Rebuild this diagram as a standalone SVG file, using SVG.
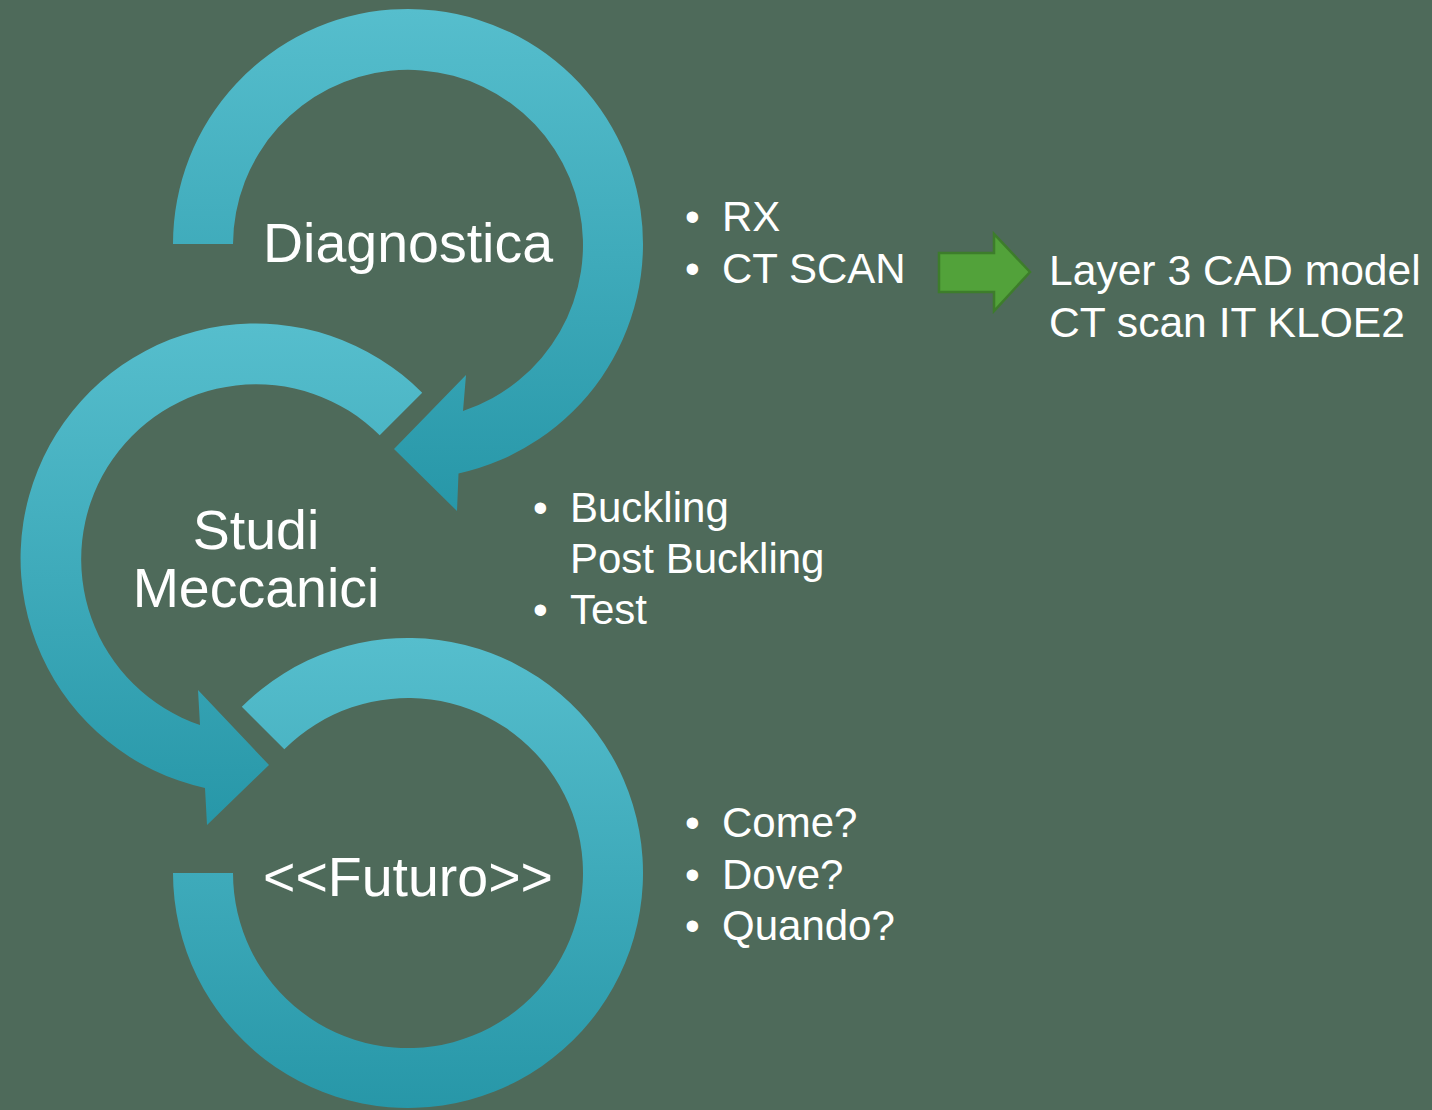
<svg xmlns="http://www.w3.org/2000/svg" width="1432" height="1110" viewBox="0 0 1432 1110">
  <defs>
    <linearGradient id="teal" x1="0" y1="0" x2="0" y2="1">
      <stop offset="0" stop-color="#56BECD"/>
      <stop offset="1" stop-color="#2797A8"/>
    </linearGradient>
    <style>
      .band { fill: url(#teal); }
      .label { font-family: "Liberation Sans", Arial, sans-serif; fill: #FFFFFF; font-size: 55.5px; text-anchor: middle; }
      .txt { font-family: "Liberation Sans", Arial, sans-serif; fill: #FFFFFF; font-size: 42px; }
      .res { font-size: 42.6px; }
      .green { fill: #52A23A; stroke: #3D7D2B; stroke-width: 2.5; stroke-linejoin: miter; }
    </style>
  </defs>
  <rect x="0" y="0" width="1432" height="1110" fill="#4E6A5A"/>

  <g id="node-diagnostica">
    <path class="band" d="M173,244 A235,235 0 1 1 458.5,473.5 L457,511 L394,449 L466,375 L463,411 A175,175 0 1 0 233,244 Z"/>
    <text class="label" x="408" y="262">Diagnostica</text>
  </g>

  <g id="node-studi">
    <path class="band" d="M422.2,392.8 A235,235 0 1 0 205,788 L207,825 L269,765 L198,690 L200,725 A175,175 0 1 1 379.7,435.3 Z"/>
    <text class="label" x="256" y="549">Studi</text>
    <text class="label" x="256" y="607">Meccanici</text>
  </g>

  <g id="node-futuro">
    <path class="band" d="M241.8,706.8 A235,235 0 1 1 173,873 L233,873 A175,175 0 1 0 284.3,749.3 Z"/>
    <text class="label" x="408" y="896">&lt;&lt;Futuro&gt;&gt;</text>
  </g>

  <g id="notes-diagnostica">
    <text class="txt" x="685" y="231">•</text>
    <text class="txt" x="722" y="231">RX</text>
    <text class="txt" x="685" y="283">•</text>
    <text class="txt" x="722" y="283">CT SCAN</text>
  </g>

  <g id="notes-studi">
    <text class="txt" x="533" y="522">•</text>
    <text class="txt" x="570" y="522">Buckling</text>
    <text class="txt" x="570" y="573">Post Buckling</text>
    <text class="txt" x="533" y="624">•</text>
    <text class="txt" x="570" y="624">Test</text>
  </g>

  <g id="notes-futuro">
    <text class="txt" x="685" y="837">•</text>
    <text class="txt" x="722" y="837">Come?</text>
    <text class="txt" x="685" y="889">•</text>
    <text class="txt" x="722" y="889">Dove?</text>
    <text class="txt" x="685" y="940">•</text>
    <text class="txt" x="722" y="940">Quando?</text>
  </g>

  <g id="connectors">
    <path class="green" d="M939,253 L994,253 L994,234 L1030,272 L994,311 L994,292 L939,292 Z"/>
  </g>

  <g id="node-result">
    <text class="txt res" x="1049" y="285">Layer 3 CAD model</text>
    <text class="txt res" x="1049" y="337">CT scan IT KLOE2</text>
  </g>
</svg>
